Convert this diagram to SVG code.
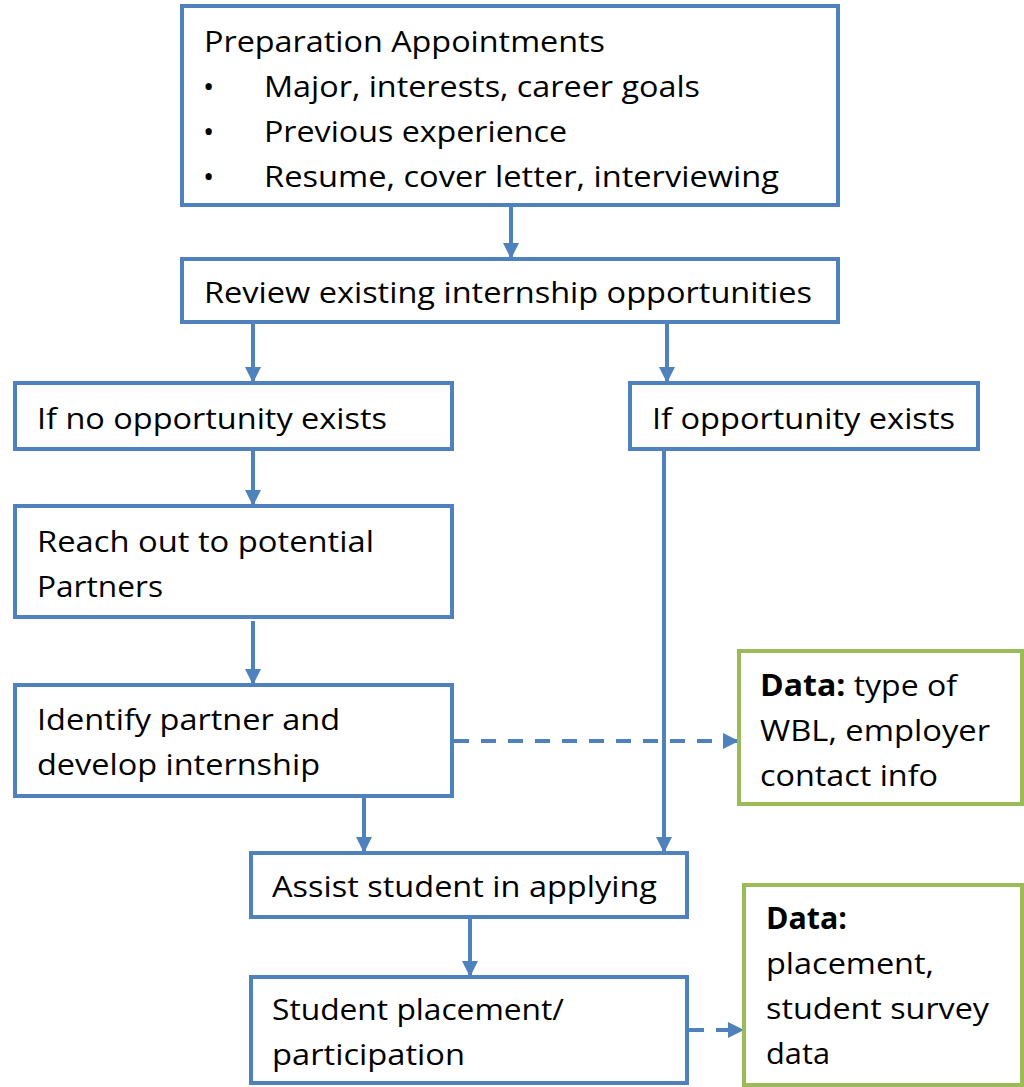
<svg xmlns="http://www.w3.org/2000/svg" width="1024" height="1087" viewBox="0 0 1024 1087">
<defs>
<style>
.box{fill:#fff;stroke:#4f81bd;stroke-width:4}
.gbox{fill:#fff;stroke:#9bbb59;stroke-width:4}
.t{font-family:"Open Sans","Liberation Sans",sans-serif;font-size:30px;fill:#000}
.c{stroke:#4f81bd;stroke-width:4;fill:none}
.d{stroke-dasharray:15 12}
</style>
<marker id="ah" markerUnits="userSpaceOnUse" markerWidth="16" markerHeight="16" viewBox="0 0 16 16" refX="15" refY="8" orient="auto">
<path d="M0,0 L16,8 L0,16 z" fill="#4f81bd"/>
</marker>
</defs>
<rect width="1024" height="1087" fill="#fff"/>
<g id="connectors">
<line class="c" x1="511" y1="205" x2="511" y2="258" marker-end="url(#ah)"/>
<line class="c" x1="253" y1="322" x2="253" y2="382" marker-end="url(#ah)"/>
<line class="c" x1="667" y1="322" x2="667" y2="382" marker-end="url(#ah)"/>
<line class="c" x1="253" y1="449" x2="253" y2="505" marker-end="url(#ah)"/>
<line class="c" x1="253" y1="621" x2="253" y2="684" marker-end="url(#ah)"/>
<line class="c" x1="364" y1="796" x2="364" y2="852" marker-end="url(#ah)"/>
<line class="c" x1="664" y1="449" x2="664" y2="852" marker-end="url(#ah)"/>
<line class="c" x1="470" y1="917" x2="470" y2="976" marker-end="url(#ah)"/>
<line class="c d" x1="454" y1="741" x2="738" y2="741" marker-end="url(#ah)"/>
<line class="c d" x1="689" y1="1030" x2="743" y2="1030" marker-end="url(#ah)"/>
</g>
<g id="n1">
<rect class="box" x="182" y="6" width="656" height="199"/>
<text class="t" x="204" y="52" textLength="401" lengthAdjust="spacingAndGlyphs">Preparation Appointments</text>
<text class="t" x="203" y="97">•</text>
<text class="t" x="264" y="97" textLength="436" lengthAdjust="spacingAndGlyphs">Major, interests, career goals</text>
<text class="t" x="203" y="142">•</text>
<text class="t" x="264" y="142" textLength="303" lengthAdjust="spacingAndGlyphs">Previous experience</text>
<text class="t" x="203" y="187">•</text>
<text class="t" x="264" y="187" textLength="515" lengthAdjust="spacingAndGlyphs">Resume, cover letter, interviewing</text>
</g>
<g id="n2">
<rect class="box" x="182" y="259" width="656" height="63"/>
<text class="t" x="204" y="303" textLength="608" lengthAdjust="spacingAndGlyphs">Review existing internship opportunities</text>
</g>
<g id="n3">
<rect class="box" x="15" y="383" width="437" height="66"/>
<text class="t" x="37" y="429" textLength="350" lengthAdjust="spacingAndGlyphs">If no opportunity exists</text>
</g>
<g id="n4">
<rect class="box" x="630" y="383" width="348" height="66"/>
<text class="t" x="652" y="429" textLength="303" lengthAdjust="spacingAndGlyphs">If opportunity exists</text>
</g>
<g id="n5">
<rect class="box" x="15" y="506" width="437" height="111"/>
<text class="t" x="37" y="552" textLength="337" lengthAdjust="spacingAndGlyphs">Reach out to potential</text>
<text class="t" x="37" y="597" textLength="126" lengthAdjust="spacingAndGlyphs">Partners</text>
</g>
<g id="n6">
<rect class="box" x="15" y="685" width="437" height="111"/>
<text class="t" x="37" y="730" textLength="303" lengthAdjust="spacingAndGlyphs">Identify partner and</text>
<text class="t" x="37" y="775" textLength="283" lengthAdjust="spacingAndGlyphs">develop internship</text>
</g>
<g id="d1">
<rect class="gbox" x="739" y="651" width="283" height="153"/>
<text class="t" x="760" y="696" textLength="197" lengthAdjust="spacingAndGlyphs"><tspan font-weight="bold">Data:</tspan> type of</text>
<text class="t" x="760" y="741" textLength="230" lengthAdjust="spacingAndGlyphs">WBL, employer</text>
<text class="t" x="760" y="786" textLength="178" lengthAdjust="spacingAndGlyphs">contact info</text>
</g>
<g id="n7">
<rect class="box" x="251" y="853" width="436" height="64"/>
<text class="t" x="272" y="897" textLength="385" lengthAdjust="spacingAndGlyphs">Assist student in applying</text>
</g>
<g id="n8">
<rect class="box" x="251" y="977" width="436" height="106"/>
<text class="t" x="272" y="1020" textLength="292" lengthAdjust="spacingAndGlyphs">Student placement/</text>
<text class="t" x="272" y="1065" textLength="193" lengthAdjust="spacingAndGlyphs">participation</text>
</g>
<g id="d2">
<rect class="gbox" x="744" y="885" width="278" height="200"/>
<text class="t" x="766" y="929" font-weight="bold" textLength="81" lengthAdjust="spacingAndGlyphs">Data:</text>
<text class="t" x="766" y="974" textLength="168" lengthAdjust="spacingAndGlyphs">placement,</text>
<text class="t" x="766" y="1019" textLength="223" lengthAdjust="spacingAndGlyphs">student survey</text>
<text class="t" x="766" y="1064" textLength="64" lengthAdjust="spacingAndGlyphs">data</text>
</g>
</svg>
